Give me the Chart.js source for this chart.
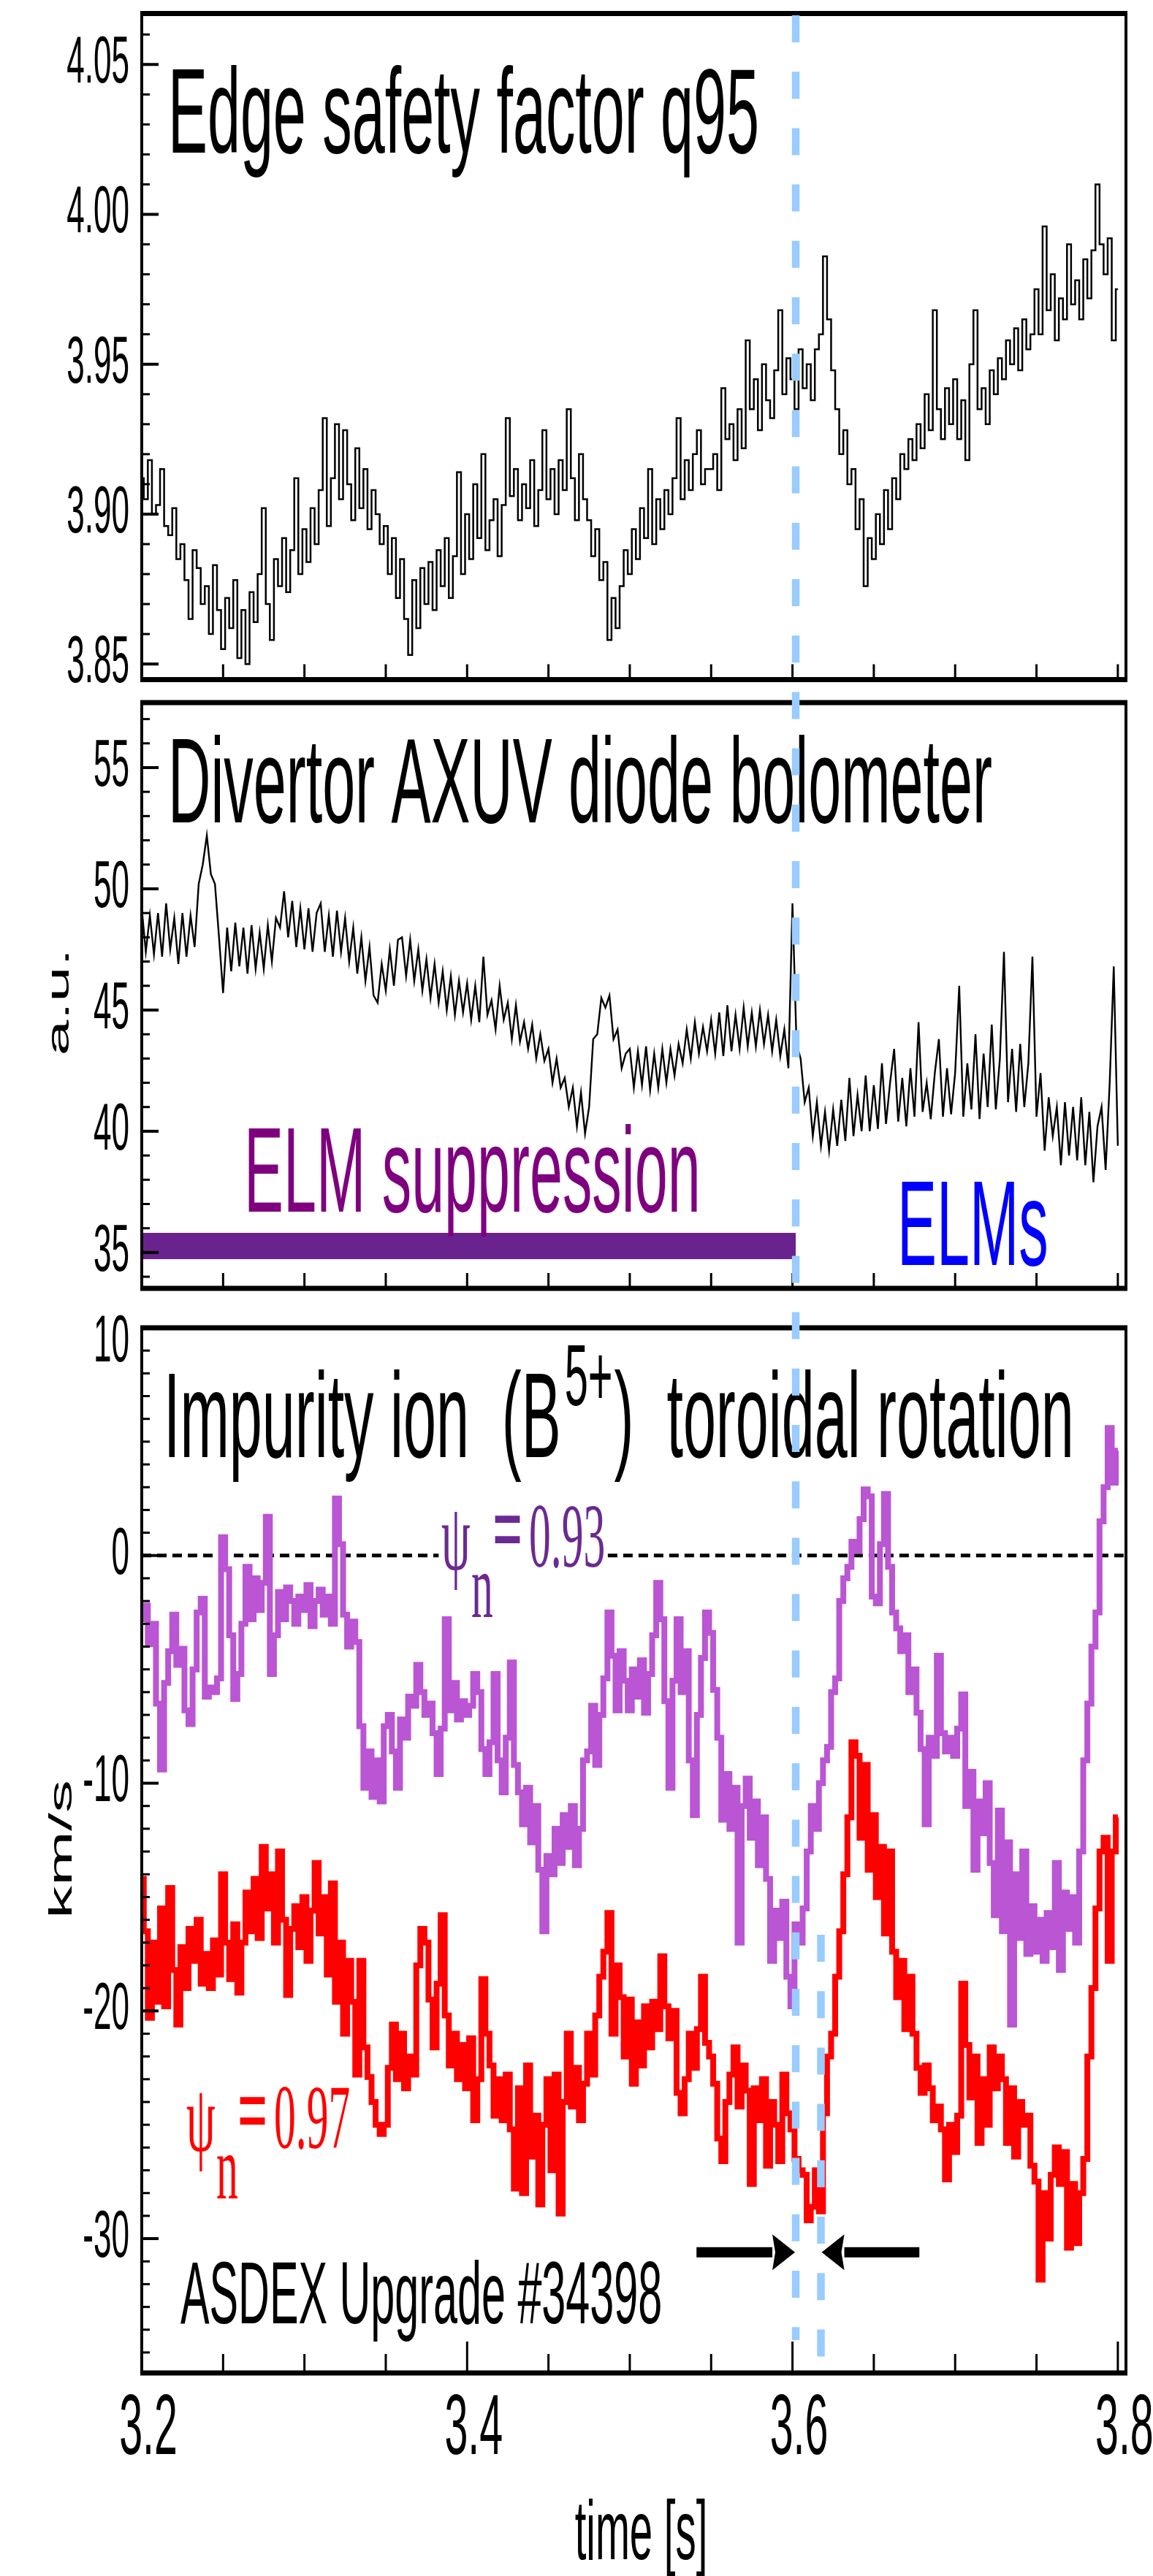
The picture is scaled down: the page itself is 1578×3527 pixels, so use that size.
<!DOCTYPE html>
<html>
<head>
<meta charset="utf-8">
<title>ASDEX Upgrade #34398 - ELM suppression and edge rotation</title>
<script src="https://cdn.jsdelivr.net/npm/chart.js@4.4.1/dist/chart.umd.min.js"></script>
<style>
  html, body { margin: 0; padding: 0; background: #ffffff; }
  #figure { position: relative; width: 1578px; height: 3527px; overflow: hidden; background: #ffffff; }
  #figure canvas { position: absolute; left: 0; display: block; }
</style>
</head>
<body>
<div id="figure">
  <canvas id="q95Panel" width="1578" height="946" style="top:0px;width:1578px;height:946px"></canvas>
  <canvas id="bolometerPanel" width="1578" height="845" style="top:946px;width:1578px;height:845px"></canvas>
  <canvas id="rotationPanel" width="1578" height="1736" style="top:1791px;width:1578px;height:1736px"></canvas>
</div>
<script>
// All traces are sampled every 2.5 ms starting at t = 3.2 s
const TIME_START = 3.2;
const TIME_STEP = 0.0025;

// Edge safety factor q95
const q95 = [
  3.912, 3.905, 3.918, 3.900, 3.903, 3.915, 3.896, 3.893, 3.902, 3.885,
  3.890, 3.878, 3.865, 3.888, 3.882, 3.870, 3.876, 3.860, 3.883, 3.868,
  3.855, 3.872, 3.862, 3.878, 3.852, 3.868, 3.850, 3.874, 3.864, 3.880,
  3.902, 3.870, 3.858, 3.885, 3.876, 3.892, 3.874, 3.888, 3.912, 3.880,
  3.895, 3.884, 3.902, 3.890, 3.908, 3.932, 3.896, 3.912, 3.930, 3.905,
  3.928, 3.910, 3.898, 3.922, 3.902, 3.915, 3.895, 3.908, 3.900, 3.890,
  3.896, 3.880, 3.892, 3.872, 3.885, 3.865, 3.853, 3.878, 3.862, 3.882,
  3.870, 3.884, 3.868, 3.888, 3.876, 3.892, 3.872, 3.886, 3.914, 3.880,
  3.900, 3.885, 3.910, 3.892, 3.920, 3.888, 3.898, 3.905, 3.886, 3.903,
  3.932, 3.906, 3.915, 3.898, 3.910, 3.902, 3.918, 3.896, 3.908, 3.928,
  3.905, 3.915, 3.900, 3.918, 3.908, 3.935, 3.912, 3.898, 3.920, 3.905,
  3.898, 3.886, 3.895, 3.878, 3.884, 3.858, 3.872, 3.862, 3.876, 3.888,
  3.880, 3.895, 3.885, 3.902, 3.892, 3.915, 3.890, 3.905, 3.895, 3.908,
  3.900, 3.912, 3.932, 3.905, 3.918, 3.908, 3.920, 3.928, 3.910, 3.915,
  3.915, 3.920, 3.908, 3.942, 3.925, 3.930, 3.918, 3.935, 3.922, 3.958,
  3.935, 3.945, 3.928, 3.950, 3.938, 3.932, 3.948, 3.968, 3.940, 3.952,
  3.945, 3.935, 3.955, 3.942, 3.950, 3.938, 3.955, 3.960, 3.986, 3.965,
  3.948, 3.935, 3.920, 3.928, 3.910, 3.915, 3.895, 3.905, 3.876, 3.892,
  3.885, 3.900, 3.890, 3.908, 3.895, 3.912, 3.905, 3.920, 3.915, 3.925,
  3.918, 3.930, 3.922, 3.940, 3.928, 3.968, 3.935, 3.925, 3.942, 3.930,
  3.945, 3.925, 3.938, 3.918, 3.950, 3.968, 3.935, 3.942, 3.930, 3.948,
  3.940, 3.952, 3.945, 3.958, 3.950, 3.962, 3.948, 3.965, 3.955, 3.960,
  3.975, 3.960, 3.996, 3.968, 3.980, 3.958, 3.972, 3.965, 3.990, 3.970,
  3.978, 3.965, 3.985, 3.972, 3.988, 4.010, 3.990, 3.980, 3.992, 3.958, 3.975
];

// Divertor AXUV diode bolometer signal (a.u.)
const bolometer = [
  49.2, 47.4, 48.9, 47.3, 49.0, 47.2, 49.4, 47.5, 48.8, 46.9,
  49.0, 47.2, 48.9, 47.6, 50.2, 51.0, 52.2, 50.6, 50.2, 48.0,
  45.7, 48.4, 46.6, 48.6, 46.8, 48.4, 46.5, 48.5, 46.7, 48.2,
  46.7, 48.5, 47.0, 48.8, 48.4, 49.9, 48.0, 49.5, 47.6, 49.2,
  47.5, 49.2, 47.4, 49.0, 49.4, 47.4, 48.9, 47.2, 49.1, 47.4,
  48.8, 47.0, 48.4, 46.5, 48.0, 46.2, 47.6, 45.6, 45.3, 46.9,
  45.8, 47.5, 46.0, 47.9, 48.0, 46.4, 47.9, 46.2, 47.5, 45.8,
  47.1, 45.5, 46.9, 45.3, 46.6, 45.0, 46.4, 44.8, 46.2, 44.9,
  46.1, 44.6, 46.0, 44.5, 47.2, 44.8, 45.4, 44.2, 46.0, 44.6,
  45.3, 43.8, 45.2, 43.7, 44.5, 43.4, 44.4, 43.0, 44.0, 42.9,
  43.4, 42.0, 43.0, 41.8, 42.2, 41.0, 41.8, 40.2, 41.6, 39.9,
  41.0, 43.8, 44.0, 45.5, 45.1, 45.6, 43.8, 44.2, 42.6, 43.2,
  43.4, 41.8, 43.3, 41.9, 43.5, 41.7, 43.2, 41.8, 43.4, 42.0,
  43.4, 42.3, 43.6, 42.8, 44.2, 43.0, 44.5, 43.2, 44.3, 43.3,
  44.6, 43.2, 44.9, 43.1, 45.2, 43.3, 44.8, 43.4, 45.1, 43.5,
  44.9, 43.5, 45.0, 43.6, 44.8, 43.3, 44.6, 43.1, 44.2, 42.6,
  49.4, 43.6, 43.0, 41.2, 41.8, 39.8, 41.2, 39.4, 40.8, 39.2,
  40.9, 39.4, 41.3, 39.6, 42.2, 39.8, 41.5, 40.0, 42.3, 40.0,
  41.9, 40.1, 42.8, 40.3, 42.0, 43.4, 40.4, 42.2, 40.2, 42.6,
  40.6, 44.5, 40.8, 42.0, 40.5, 42.4, 43.8, 40.6, 42.6, 40.7,
  42.4, 46.0, 40.6, 42.8, 40.9, 44.0, 40.5, 43.2, 41.0, 44.4,
  40.9, 43.0, 47.4, 41.2, 43.4, 40.8, 43.6, 41.0, 42.8, 47.2,
  40.6, 42.4, 39.2, 41.4, 39.8, 41.0, 38.6, 41.2, 39.0, 41.0,
  38.8, 41.4, 38.6, 40.8, 37.9, 40.2, 41.0, 38.4, 42.0, 46.8, 39.4
];

// B5+ toroidal rotation (km/s) at psi_n = 0.93
const rotation093 = [
  -2.8, -2.2, -3.9, -3.0, -6.5, -9.4, -5.6, -4.2, -2.6, -4.8,
  -4.1, -6.8, -7.4, -5.0, -2.5, -1.9, -6.2, -5.8, -6.0, -5.4,
  0.8, -0.6, -3.5, -6.3, -5.2, -3.0, -0.5, -2.8, -1.0, -2.4,
  -1.2, 1.7, -5.2, -3.5, -1.6, -2.8, -1.4, -2.0, -3.0, -1.8,
  -2.4, -1.3, -3.1, -2.0, -1.5, -2.6, -1.8, -3.0, 2.5, 0.5,
  -2.6, -4.0, -2.9, -3.8, -7.5, -10.2, -8.6, -10.6, -9.0, -10.8,
  -7.5, -7.0, -8.6, -10.2, -7.2, -8.0, -6.2, -6.6, -4.8, -6.0,
  -7.0, -6.5, -7.8, -9.6, -7.6, -2.8, -6.8, -5.6, -7.2, -6.4,
  -7.0, -6.6, -5.2, -6.0, -8.5, -9.6, -8.2, -5.2, -9.0, -10.4,
  -8.0, -4.7, -9.2, -10.4, -11.8, -10.2, -12.6, -11.0, -13.8, -16.5,
  -13.2, -14.0, -12.0, -13.5, -11.4, -12.8, -11.0, -13.6, -12.0, -9.0,
  -8.6, -6.6, -9.2, -7.0, -5.4, -2.5, -4.4, -6.8, -4.2, -5.5,
  -6.8, -5.0, -6.2, -4.6, -6.9, -5.2, -3.5, -1.2, -2.8, -6.4,
  -10.2, -5.5, -2.8, -6.0, -4.2, -9.0, -11.4, -7.0, -4.5, -2.5,
  -3.4, -5.9, -8.0, -11.6, -9.6, -12.0, -10.2, -17.0, -11.0, -9.8,
  -12.4, -10.8, -13.6, -11.5, -14.2, -17.8, -15.6, -16.8, -15.2, -18.5,
  -19.8, -16.2, -17.0, -15.5, -13.0, -11.0, -12.0, -10.0, -9.0, -8.4,
  -6.0, -5.4, -2.0, -1.0, -0.5, 0.6, 0.2, 1.6, 2.9, 2.6,
  -1.8, -2.1, 0.5, 2.7, -0.5, -2.5, -3.2, -4.2, -3.5, -6.0,
  -5.0, -6.9, -8.5, -11.8, -8.0, -8.8, -4.4, -7.8, -8.6, -8.0,
  -8.8, -7.6, -6.1, -11.0, -9.5, -13.8, -10.8, -12.2, -10.0, -13.5,
  -15.8, -11.2, -16.5, -12.6, -20.6, -14.0, -16.8, -13.0, -17.5, -15.4,
  -17.4, -16.0, -17.8, -15.7, -17.2, -13.5, -18.2, -14.8, -16.4, -15.0,
  -17.0, -13.0, -9.0, -6.5, -4.0, -2.5, 1.5, 3.0, 5.6, 3.2, 4.6
];

// B5+ toroidal rotation (km/s) at psi_n = 0.97
const rotation097 = [
  -14.2, -16.5, -20.3, -17.0, -19.6, -15.5, -19.8, -14.6, -18.2, -20.6,
  -17.2, -19.0, -16.4, -17.8, -16.0, -18.8, -17.5, -19.0, -16.9, -18.4,
  -14.0, -17.0, -18.6, -16.2, -19.2, -17.0, -14.8, -16.5, -14.2, -16.8,
  -12.8, -15.5, -14.0, -17.0, -13.0, -16.0, -19.3, -16.4, -15.4, -17.2,
  -15.0, -17.8, -15.6, -13.5, -16.6, -15.0, -18.4, -14.4, -19.6, -17.0,
  -21.0, -17.8, -19.6, -22.8, -17.8, -21.6, -22.9, -24.0, -25.0, -25.4,
  -25.0, -22.5, -20.6, -23.0, -21.0, -23.4, -22.0, -22.8, -18.0, -16.4,
  -17.0, -19.5, -21.6, -18.8, -15.8, -20.2, -22.4, -21.0, -23.0, -21.5,
  -23.4, -21.2, -24.8, -23.0, -18.6, -21.0, -22.4, -24.6, -23.0, -24.8,
  -22.8, -25.2, -27.8, -23.4, -28.0, -22.4, -26.4, -24.6, -28.5, -25.0,
  -23.0, -27.0, -22.8, -28.9, -24.0, -21.0, -24.2, -22.5, -24.8, -23.2,
  -21.0, -22.8, -20.2, -18.5, -17.4, -15.7, -21.0, -18.0, -19.4, -22.0,
  -19.5, -23.2, -20.5, -22.4, -19.8, -21.6, -19.6, -20.8, -17.6, -19.8,
  -21.2, -20.0, -23.6, -24.5, -23.0, -21.0, -22.5, -20.8, -18.5, -21.4,
  -22.0, -23.2, -25.6, -26.6, -24.0, -22.8, -21.6, -24.2, -22.4, -23.5,
  -27.6, -23.4, -24.8, -23.0, -26.8, -24.0, -25.0, -26.6, -22.8, -24.5,
  -25.2, -26.5, -27.0, -27.2, -29.2, -28.6, -27.0, -28.8, -24.5, -22.0,
  -21.0, -18.5, -16.5, -14.0, -11.5, -8.2, -8.8, -12.4, -9.2, -13.8,
  -11.4, -15.0, -12.8, -16.6, -13.0, -17.4, -19.4, -17.8, -20.8, -18.5,
  -21.0, -22.5, -23.6, -22.4, -23.4, -24.8, -24.2, -25.2, -27.4, -25.0,
  -26.2, -24.6, -18.8, -21.5, -23.8, -22.0, -25.8, -23.0, -25.0, -21.6,
  -23.4, -22.0, -23.0, -25.8, -23.4, -26.4, -24.0, -25.0, -24.6, -26.8,
  -27.5, -31.8, -28.0, -30.0, -27.2, -26.0, -27.6, -26.2, -30.4, -27.6,
  -30.2, -28.0, -26.5, -22.0, -19.0, -15.5, -13.0, -12.4, -17.8, -13.0, -11.5
];

// Axis tick labels
const q95TickLabels = ['3.85', '3.90', '3.95', '4.00', '4.05'];
const bolometerTickLabels = ['35', '40', '45', '50', '55'];
const rotationTickLabels = ['-30', '-20', '-10', '0', '10'];
const timeTickLabels = ['3.2', '3.4', '3.6', '3.8'];

// Phases and markers
const elmSuppressionSpan = [3.2, 3.602];   // ELM-suppressed phase (bar in bolometer panel)
const suppressionBarLevel = 35.27;
const elmSuppressionEnd = 3.602;            // end of suppression
const firstElmTime = 3.6175;                // first ELM
const zeroLineSpans = [[3.2, 3.3825], [3.4865, 3.805]];
const arrowLevel = -30.6;
const arrowTails = [3.541, 3.678];

// ---------------------------------------------------------------------------
const SANS = "'Liberation Sans', Arial, Helvetica, sans-serif";
const SERIF = "'Liberation Serif', 'Times New Roman', serif";
const SQUEEZE = 0.49;           // narrow lettering of the figure
const X_MIN = 3.2, X_MAX = 3.805;

function toPoints(series) {
  return series.map((v, i) => ({ x: +(TIME_START + i * TIME_STEP).toFixed(4), y: v }));
}

function seg(ctx, x1, y1, x2, y2) {
  ctx.beginPath();
  ctx.moveTo(x1, y1);
  ctx.lineTo(x2, y2);
  ctx.stroke();
}

function squeezed(ctx, text, x, y, size, color, o = {}) {
  const sx = o.sx || SQUEEZE;
  ctx.save();
  ctx.font = `${o.weight || ''} ${size}px ${o.family || SANS}`;
  ctx.fillStyle = color;
  ctx.textAlign = o.align || 'left';
  ctx.textBaseline = o.baseline || 'alphabetic';
  ctx.translate(x, y);
  ctx.scale(sx, 1);
  ctx.fillText(text, 0, 0);
  const w = ctx.measureText(text).width * sx;
  ctx.restore();
  return w;
}

function verticalTitle(ctx, text, x, y, size) {
  ctx.save();
  ctx.translate(x, y);
  ctx.rotate(-Math.PI / 2);
  ctx.scale(1, SQUEEZE);
  ctx.font = `${size}px ${SANS}`;
  ctx.fillStyle = '#000';
  ctx.textAlign = 'center';
  ctx.textBaseline = 'middle';
  ctx.fillText(text, 0, 0);
  ctx.restore();
}

// Frame, inward ticks and tick labels of one panel
function drawAxes(chart, cfg) {
  const { ctx, chartArea: a } = chart;
  const xs = chart.scales.x, ys = chart.scales.y;
  ctx.save();
  ctx.strokeStyle = '#000';
  ctx.lineCap = 'butt';

  ctx.lineWidth = 3;
  for (let k = 0; k < 200; k++) {
    const v = cfg.minorStart + k * cfg.minorStep;
    if (v > ys.max) break;
    const py = ys.getPixelForValue(v);
    if (py < a.top + 3 || py > a.bottom - 3) continue;
    seg(ctx, a.left, py, a.left + 11, py);
  }

  cfg.tickLabels.forEach(lbl => {
    const py = ys.getPixelForValue(parseFloat(lbl));
    ctx.lineWidth = 4;
    if (py > a.top + 3 && py < a.bottom - 3) seg(ctx, a.left, py, a.left + 23, py);
    const cy = Math.max(py, a.top + 21);
    squeezed(ctx, lbl, a.left - 17, cy, 90, '#000', { align: 'right', baseline: 'middle' });
  });

  ctx.lineWidth = 3;
  for (let k = 1; k <= 12; k++) {
    const px = xs.getPixelForValue(3.2 + k * 0.05);
    const len = cfg.timeLabels ? (k % 4 === 0 ? 43 : 26) : 21;
    seg(ctx, px, a.bottom, px, a.bottom - len);
  }

  ctx.lineWidth = 4;
  seg(ctx, a.left, a.top, a.left, a.bottom);
  seg(ctx, a.right, a.top, a.right, a.bottom);
  ctx.lineWidth = 7;
  seg(ctx, a.left - 2, a.top, a.right + 2, a.top);
  seg(ctx, a.left - 2, a.bottom, a.right + 2, a.bottom);
  ctx.restore();

  if (cfg.timeLabels) {
    timeTickLabels.forEach(lbl => {
      const px = xs.getPixelForValue(parseFloat(lbl));
      squeezed(ctx, lbl, px + 9, a.bottom + 111, 117, '#000', { align: 'center' });
    });
    squeezed(ctx, 'time [s]', (a.left + a.right) / 2 + 10, a.bottom + 255, 115, '#000', { align: 'center' });
  }
}

// Light-blue dashed markers crossing the panels (positions in figure coordinates)
function drawMarkers(chart, canvasTop) {
  const { ctx } = chart;
  const xs = chart.scales.x;
  ctx.save();
  ctx.strokeStyle = '#99ccff';
  ctx.lineWidth = 10.5;
  ctx.lineCap = 'butt';
  ctx.setLineDash([37, 40.2]);
  const x1 = xs.getPixelForValue(elmSuppressionEnd);
  seg(ctx, x1, 21 - canvasTop, x1, 3204 - canvasTop);
  const x2 = xs.getPixelForValue(firstElmTime);
  seg(ctx, x2, 2649 - canvasTop, x2, 3227 - canvasTop);
  ctx.restore();
}

function arrow(ctx, xTail, xTip, y) {
  const dir = Math.sign(xTip - xTail);
  const headLen = 31, headHalf = 24.5, shaft = 14;
  const xBase = xTip - dir * headLen;
  ctx.save();
  ctx.fillStyle = '#000';
  ctx.fillRect(Math.min(xTail, xBase), y - shaft / 2, Math.abs(xBase - xTail), shaft);
  ctx.beginPath();
  ctx.moveTo(xTip, y);
  ctx.lineTo(xBase, y - headHalf);
  ctx.lineTo(xBase + dir * 4, y);
  ctx.lineTo(xBase, y + headHalf);
  ctx.closePath();
  ctx.fill();
  ctx.restore();
}

function psiLabel(ctx, x, y, value, color) {
  const size = 124, sx = 0.48;
  squeezed(ctx, '\u03C8', x, y + 4, 132, color, { family: SERIF, sx });
  squeezed(ctx, 'n', x + 41, y + 69, size, color, { family: SERIF, sx });
  squeezed(ctx, '=', x + 70, y - 4, 140, color, { family: SERIF, sx: 0.52, weight: 'bold' });
  return 120 + squeezed(ctx, value, x + 120, y, size, color, { family: SERIF, sx });
}

function baseOptions(padding, yMin, yMax) {
  return {
    responsive: false,
    animation: false,
    devicePixelRatio: 1,
    events: [],
    layout: { padding },
    plugins: { legend: { display: false }, tooltip: { enabled: false }, title: { display: false } },
    elements: { point: { radius: 0, hoverRadius: 0 }, line: { tension: 0, fill: false } },
    scales: {
      x: { type: 'linear', min: X_MIN, max: X_MAX, display: false },
      y: { type: 'linear', min: yMin, max: yMax, display: false }
    }
  };
}

// ---------------------------------------------------------------------------
// Panel 1: edge safety factor
new Chart(document.getElementById('q95Panel'), {
  type: 'line',
  data: {
    datasets: [{
      data: toPoints(q95), borderColor: '#000000', borderWidth: 2.5, stepped: 'middle'
    }]
  },
  options: baseOptions({ left: 194, right: 37, top: 18.5, bottom: 15.5 }, 3.8448, 4.067),
  plugins: [{
    id: 'q95Decor',
    afterDraw(chart) {
      drawAxes(chart, { tickLabels: q95TickLabels, minorStart: 3.85, minorStep: 0.01 });
      squeezed(chart.ctx, 'Edge safety factor q95', 230, 209, 165, '#000');
      drawMarkers(chart, 0);
    }
  }]
});

// Panel 2: divertor bolometer with the ELM-suppressed interval
new Chart(document.getElementById('bolometerPanel'), {
  type: 'line',
  data: {
    datasets: [
      { data: toPoints(bolometer), borderColor: '#000000', borderWidth: 2.4 },
      {
        data: elmSuppressionSpan.map(t => ({ x: t, y: suppressionBarLevel })),
        borderColor: '#6a228e', borderWidth: 36, borderCapStyle: 'butt'
      }
    ]
  },
  options: baseOptions({ left: 194, right: 37, top: 16, bottom: 27 }, 33.52, 57.68),
  plugins: [{
    id: 'bolometerDecor',
    afterDraw(chart) {
      const ctx = chart.ctx;
      drawAxes(chart, { tickLabels: bolometerTickLabels, minorStart: 34, minorStep: 1 });
      squeezed(ctx, 'Divertor AXUV diode bolometer', 230, 180, 165, '#000');
      squeezed(ctx, 'ELM suppression', 334, 713, 165, '#7f007f');
      squeezed(ctx, 'ELMs', 1228, 786, 165, '#0000ff');
      verticalTitle(ctx, 'a.u.', 82, 426, 88);
      drawMarkers(chart, 946);
    }
  }]
});

// Panel 3: impurity ion toroidal rotation at two radii
new Chart(document.getElementById('rotationPanel'), {
  type: 'line',
  data: {
    datasets: [
      { data: toPoints(rotation097), borderColor: '#ff0000', borderWidth: 8, stepped: 'middle', borderJoinStyle: 'miter' },
      { data: toPoints(rotation093), borderColor: '#ba55d3', borderWidth: 8, stepped: 'middle', borderJoinStyle: 'miter' },
      ...zeroLineSpans.map(span => ({
        data: span.map(t => ({ x: t, y: 0 })),
        borderColor: '#000000', borderWidth: 5, borderDash: [13, 8], borderCapStyle: 'butt'
      }))
    ]
  },
  options: baseOptions({ left: 194, right: 37, top: 27, bottom: 278 }, -35.9, 10),
  plugins: [{
    id: 'rotationDecor',
    afterDraw(chart) {
      const ctx = chart.ctx;
      const xs = chart.scales.x, ys = chart.scales.y;
      drawAxes(chart, { tickLabels: rotationTickLabels, minorStart: -35, minorStep: 1, timeLabels: true });

      // Title with superscript charge state
      let x = 224;
      x += squeezed(ctx, 'Impurity ion  (B', x, 204, 165, '#000');
      x += 5;
      x += squeezed(ctx, '5+', x, 133, 118, '#000');
      squeezed(ctx, ')  toroidal rotation', x + 2, 204, 165, '#000');

      psiLabel(ctx, 604, 354, '0.93', '#6b2a90');
      psiLabel(ctx, 255, 1150, '0.97', '#ff0000');
      squeezed(ctx, 'ASDEX Upgrade #34398', 247, 1390, 121, '#000');
      verticalTitle(ctx, 'km/s', 86, 741, 90);

      drawMarkers(chart, 1791);
      const ay = ys.getPixelForValue(arrowLevel);
      arrow(ctx, xs.getPixelForValue(arrowTails[0]), xs.getPixelForValue(elmSuppressionEnd) - 1, ay);
      arrow(ctx, xs.getPixelForValue(arrowTails[1]), xs.getPixelForValue(firstElmTime) + 1, ay);
    }
  }]
});
</script>
</body>
</html>
